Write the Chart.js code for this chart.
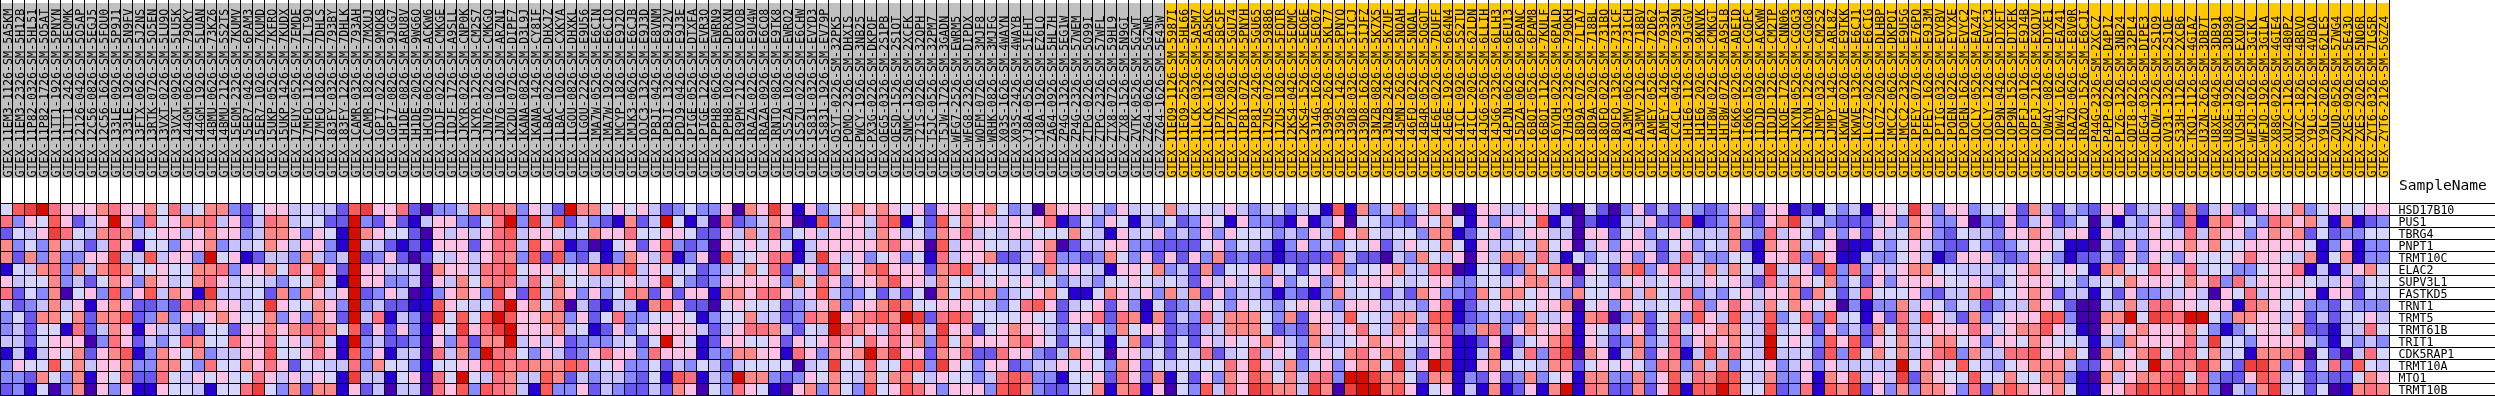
<!DOCTYPE html>
<html><head><meta charset="utf-8">
<script src="https://cdn.jsdelivr.net/npm/chart.js@4"></script>
<style>html,body{margin:0;padding:0;background:#fff}canvas{display:block}</style>
</head><body><canvas id="c" width="2495" height="396"></canvas>
<script>
const samples = ["GTEX-11EM3-1126-SM-5A5KM","GTEX-11EM3-2326-SM-5H12B","GTEX-11P82-0326-SM-5HL51","GTEX-11P82-1726-SM-5O5AT","GTEX-11TT1-1926-SM-5PNYN","GTEX-11TT1-2426-SM-5EQMK","GTEX-12126-0426-SM-5O5AP","GTEX-12C56-0826-SM-5EGJ5","GTEX-12C56-1626-SM-5FQU0","GTEX-133LE-0926-SM-5P9J1","GTEX-133LE-1926-SM-5N9FV","GTEX-13FTX-0626-SM-5J2NS","GTEX-13RTK-0726-SM-5O5EN","GTEX-13VXT-0226-SM-5LU9O","GTEX-13VXT-0926-SM-5LU5K","GTEX-144GM-0626-SM-79OKY","GTEX-144GM-1926-SM-5LUAN","GTEX-14BMU-0626-SM-73KZ6","GTEX-14BMU-2126-SM-5S2TS","GTEX-15EOM-2326-SM-7KUMV","GTEX-15ER7-0426-SM-6PAM3","GTEX-15ER7-1026-SM-7KUMD","GTEX-15UKP-0526-SM-7KFRO","GTEX-15UKP-1426-SM-7KUDX","GTEX-17EUY-0526-SM-7EMDE","GTEX-17MFQ-1126-SM-7LT9O","GTEX-17MFQ-1826-SM-7DHLS","GTEX-183FY-0326-SM-793BY","GTEX-183FY-1226-SM-7DHLK","GTEX-1CAMR-0326-SM-793AH","GTEX-1CAMR-1826-SM-7MXUJ","GTEX-1GPI7-0226-SM-9MQKB","GTEX-1GPI7-0826-SM-9JGG7","GTEX-1H1DE-0826-SM-ARU8V","GTEX-1H1DE-2026-SM-9WG6O",
"GTEX-1HCU9-0626-SM-ACKW6","GTEX-1IDJF-0226-SM-CMKGE","GTEX-1IDJF-1726-SM-A9SLL","GTEX-1JKYR-0226-SM-CNP0K","GTEX-1JKYR-1226-SM-CM2S7","GTEX-1JN76-0226-SM-CMKGQ","GTEX-1JN76-1026-SM-ARZNI","GTEX-1K2DU-0726-SM-DIPF7","GTEX-1KANA-0826-SM-D3L9J","GTEX-1KANA-1426-SM-CY8IF","GTEX-1LBAC-0226-SM-DHXJZ","GTEX-1LBAC-1026-SM-CXKYA","GTEX-1LGOU-0826-SM-DHXKL","GTEX-1LGOU-2226-SM-E9U56","GTEX-1MA7W-0526-SM-E6CIN","GTEX-1MA7W-1926-SM-E6CIO","GTEX-1MCYP-1826-SM-E9J2O","GTEX-1MJK3-0626-SM-E6CJB","GTEX-1OJC3-1326-SM-E9J3D","GTEX-1PBJI-0426-SM-E8VNM","GTEX-1PBJI-1326-SM-E9J2V","GTEX-1PDJ9-0426-SM-E9J3E","GTEX-1PIGE-0526-SM-DTXFA","GTEX-1PIGE-1226-SM-EVR3O","GTEX-1PPH8-0626-SM-EWRN9","GTEX-1PPH8-1026-SM-DPRXN","GTEX-1R9PM-2126-SM-E8VOB","GTEX-1RAZA-0226-SM-E9U4W","GTEX-1RAZA-0926-SM-E6CO8","GTEX-1RNTQ-0826-SM-E9TK8",
"GTEX-1S5ZA-1026-SM-EWRO2","GTEX-1S5ZU-0226-SM-E6CHW","GTEX-1S831-0326-SM-EVYD3","GTEX-1S831-1926-SM-EV79P","GTEX-O5YT-0226-SM-32PK5","GTEX-POMQ-2326-SM-DHXIS","GTEX-PWCY-1926-SM-3NB25","GTEX-PX3G-0226-SM-DKPOF","GTEX-QEG5-0326-SM-2S1PB","GTEX-QESD-1526-SM-2S1QT","GTEX-SNMC-1326-SM-2XCFK","GTEX-T2IS-0226-SM-32QPH","GTEX-T5JC-0526-SM-32PM7","GTEX-T5JW-1726-SM-3GADN","GTEX-WFG7-2526-SM-EWRM5","GTEX-WFG8-2326-SM-DIPDX","GTEX-WOFM-0726-SM-3MJF8","GTEX-WRHK-0826-SM-3MJFG","GTEX-X03S-1626-SM-4WAYN","GTEX-X03S-2426-SM-4WAYB","GTEX-YJ8A-0526-SM-5IFHT","GTEX-YJ8A-1926-SM-EZ6LQ","GTEX-ZA64-0926-SM-5HL7H","GTEX-ZP4G-1326-SM-5EG1W","GTEX-ZP4G-2326-SM-57WEM","GTEX-ZTPG-0226-SM-5O99I","GTEX-ZTPG-2326-SM-57WFL",
"GTEX-ZTX8-0726-SM-59HL9","GTEX-ZTX8-1526-SM-5N9GI","GTEX-ZVTK-0526-SM-5GZWT","GTEX-ZZ64-0626-SM-5GZWR","GTEX-ZZ64-1626-SM-5E43W","GTEX-11EQ9-1126-SM-5987I","GTEX-11EQ9-2526-SM-5HL66","GTEX-11LCK-0326-SM-5A5M7","GTEX-11LCK-1126-SM-5A5KC","GTEX-11P7K-0826-SM-5BC5F","GTEX-11P7K-2026-SM-5GU74","GTEX-11P81-0726-SM-5PNYH","GTEX-11P81-2426-SM-5GU65","GTEX-11ZUS-0726-SM-59886","GTEX-11ZUS-1826-SM-5FQTR","GTEX-12KS4-0426-SM-5EQMC","GTEX-12KS4-1526-SM-5EQ6E","GTEX-1314G-1626-SM-5EQ67","GTEX-1399R-2626-SM-5KL77","GTEX-1399S-1426-SM-5PNYQ","GTEX-139D8-0326-SM-5IJCJ","GTEX-139D8-1626-SM-5IJFZ","GTEX-13NZB-0826-SM-5K7X5","GTEX-13NZB-2426-SM-5K7UF","GTEX-145MN-2626-SM-5NQAH","GTEX-146FQ-0226-SM-5NQAL","GTEX-14B4R-0526-SM-5QGQT","GTEX-14E6E-0226-SM-7DUFF","GTEX-14E6E-1926-SM-664N4","GTEX-14ICL-0926-SM-5S2TU","GTEX-14ICL-2026-SM-62LDN","GTEX-14JG6-0526-SM-6LLIH","GTEX-14JG6-2326-SM-6LLH3",
"GTEX-14PJN-0626-SM-6EU13","GTEX-15DZA-0626-SM-6PANC","GTEX-16BQI-0526-SM-6PAM8","GTEX-16BQI-1126-SM-7KULF","GTEX-16YQH-0226-SM-6PALD","GTEX-17HG3-2326-SM-79OKH","GTEX-18D9A-0726-SM-7LTA7","GTEX-18D9A-2026-SM-718BL","GTEX-18QFQ-0226-SM-731BQ","GTEX-18QFQ-1326-SM-731CF","GTEX-1A3MV-0626-SM-731CH","GTEX-1A3MV-2126-SM-718BV","GTEX-1AMEY-0526-SM-72D62","GTEX-1AMEY-1426-SM-7939I","GTEX-1C4CL-0426-SM-7939N","GTEX-1H1E6-1126-SM-9JGGV","GTEX-1H1E6-2026-SM-9KNVK","GTEX-1HT8W-0226-SM-CMKGT","GTEX-1HT8W-0726-SM-A9SLB","GTEX-1I6K6-0226-SM-ADEID","GTEX-1I6K6-1526-SM-CGQFC","GTEX-1IDJD-0926-SM-ACKWW","GTEX-1IDJD-1226-SM-CM2TP","GTEX-1IKOE-1726-SM-CNN06","GTEX-1JKYN-0526-SM-CGQG3",
"GTEX-1JKYN-1226-SM-CGQG8","GTEX-1JMPY-0326-SM-CM2S2","GTEX-1JMPY-1426-SM-ARL8Z","GTEX-1KWVE-0226-SM-E9TKK","GTEX-1KWVE-1326-SM-E6CJ1","GTEX-1LG7Z-0226-SM-E6CIG","GTEX-1LG7Z-2026-SM-DLHBP","GTEX-1MCC2-0626-SM-DKPOI","GTEX-1MCC2-2326-SM-E9U5G","GTEX-1PFEY-0726-SM-E76PO","GTEX-1PFEY-1626-SM-E9J3M","GTEX-1PIIG-0326-SM-EVYBV","GTEX-1POEN-0226-SM-EYYXE","GTEX-1POEN-1626-SM-EVYC2","GTEX-1OCLY-0526-SM-EAZ47","GTEX-1OCLY-1226-SM-EVYC3","GTEX-1OP9N-0426-SM-DTXFT","GTEX-1OP9N-1526-SM-DTXFK","GTEX-1OPFJ-0126-SM-E9J4B","GTEX-1OPFJ-2126-SM-EXOJV","GTEX-1OW4Y-0826-SM-DTXE1","GTEX-1OW4Y-1626-SM-EAZ41","GTEX-1RAZQ-0626-SM-E8V0R","GTEX-1RAZQ-1526-SM-E6CJI","GTEX-P44G-2326-SM-2XCCZ",
"GTEX-P4PP-0226-SM-D4P1Z","GTEX-PLZ6-1326-SM-3NB24","GTEX-QDT8-0226-SM-32PL4","GTEX-QEG4-0326-SM-DIPE3","GTEX-QLQW-1226-SM-2S1Q9","GTEX-QV31-1326-SM-2S1QE","GTEX-S33H-1126-SM-2XCB6","GTEX-TKQ1-1126-SM-4GIAZ","GTEX-U3ZN-2626-SM-3DB7T","GTEX-U8XE-0426-SM-3DB91","GTEX-U8XE-1926-SM-3DB98","GTEX-VUSH-0226-SM-EXUQV","GTEX-WFJO-1026-SM-3GIKL","GTEX-WFJO-1926-SM-3GILA","GTEX-X88G-0226-SM-4GIE4","GTEX-XUZC-1126-SM-4B0PZ","GTEX-XUZC-1826-SM-4BRVO","GTEX-Y9LG-1226-SM-4VBQA","GTEX-Y9LG-2026-SM-62LES","GTEX-ZOUD-0526-SM-57WG4","GTEX-ZXES-0926-SM-5E43O","GTEX-ZXES-2026-SM-5NQ6R","GTEX-ZYT6-0326-SM-7LG5R","GTEX-ZYT6-2126-SM-5GZZ4"];
const genes = ["HSD17B10","PUS1","TBRG4","PNPT1","TRMT10C","ELAC2","SUPV3L1","FASTKD5","TRNT1","TRMT5","TRMT61B","TRIT1","CDK5RAP1","TRMT10A","MTO1","TRMT10B"];
const firstYellowColumn = 97;
const groupColors = ["#C0C0C0","#FFC800"];
const palette = ["#4500AD","#2700D1","#6B58EF","#8888FF","#C7C1FF","#D5D5FF","#FFC0E5","#FF8989","#FF7080","#FF5A5A","#EF4040","#D60C00"];

const HSD17B10 = [5,9,10,11,8,6,6,6,7,8,6,6,7,5,8,4,5,7,7,3,2,5,6,6,4,5,4,4,2,9,10,6,6,8,2,
0,3,3,4,7,7,8,7,3,6,4,2,11,7,7,5,6,5,6,4,2,3,5,3,3,6,0,7,6,10,
6,1,6,3,5,6,7,6,7,6,5,6,2,6,6,7,6,7,5,3,4,0,7,6,6,6,4,
3,6,4,5,5,7,4,5,5,4,6,4,3,4,5,3,4,5,1,9,1,7,3,4,7,3,5,7,6,0,1,6,6,
4,4,6,6,4,1,0,5,2,0,3,6,2,4,2,5,3,2,3,6,6,2,6,6,1,
2,1,5,3,4,1,6,6,5,10,6,3,6,6,3,5,5,6,2,7,4,2,4,3,2,
6,6,2,4,4,6,2,7,2,4,6,3,2,6,6,5,7,3,5,6,5,5,6,6];
const PUS1 = [8,3,6,5,9,6,2,4,6,11,6,3,8,5,6,7,7,8,4,6,2,4,8,7,4,5,5,2,2,11,3,2,6,2,1,
4,6,6,3,2,5,8,11,3,10,4,9,2,4,3,2,1,7,2,4,11,5,1,4,0,8,2,3,4,7,
6,0,1,9,3,6,6,4,8,9,1,5,2,9,5,7,6,6,4,6,5,6,8,1,2,5,3,
6,5,1,4,3,5,2,3,6,5,1,6,3,3,2,1,6,1,3,6,0,5,5,3,3,2,6,5,7,5,1,6,3,
6,6,5,9,1,4,0,2,1,1,4,4,6,2,2,9,1,2,3,7,3,2,6,7,10,
4,4,3,2,2,2,4,6,3,7,6,3,3,6,0,3,2,6,2,4,6,2,3,5,0,
4,1,4,3,6,4,2,8,1,7,8,6,5,3,8,7,6,7,4,1,7,1,2,3];
const TBRG4 = [2,5,4,6,10,8,5,4,7,8,7,4,5,6,6,4,6,7,6,6,3,4,7,7,6,3,6,5,1,11,7,6,5,5,2,
0,6,4,6,4,6,8,9,4,6,6,5,4,5,7,6,6,8,5,5,6,6,5,2,2,6,4,7,4,8,
3,5,6,4,6,6,6,4,7,6,4,5,3,7,6,8,4,5,4,6,6,5,5,5,7,5,4,
1,6,4,5,6,3,4,3,6,3,6,5,5,5,3,4,3,6,4,9,6,7,5,4,5,5,3,7,7,1,2,5,6,
3,4,6,6,4,4,0,6,6,2,5,6,3,5,6,5,4,4,4,7,5,3,8,4,6,
5,2,6,3,6,2,6,4,5,7,6,3,2,5,4,4,3,6,6,7,6,4,6,6,1,
6,4,4,4,6,5,4,8,4,7,6,6,3,6,7,6,7,2,5,2,3,3,5,5];
const PNPT1 = [7,3,5,3,7,4,4,2,4,8,6,1,5,5,3,6,6,7,3,4,4,5,7,6,4,6,6,3,1,11,4,4,2,1,2,
1,6,6,6,2,6,8,8,4,9,6,8,1,2,0,1,5,6,2,6,9,3,2,3,0,6,5,6,5,6,
5,1,4,6,6,6,6,6,7,8,6,6,0,9,4,6,6,5,5,4,4,6,7,0,2,4,4,
6,6,3,3,2,2,2,2,5,6,3,5,4,3,1,3,6,3,4,3,5,5,6,2,4,6,5,5,7,5,1,6,4,
4,5,4,7,5,6,0,4,6,3,6,6,4,2,5,6,3,5,4,7,2,1,7,6,7,
4,5,6,0,1,1,4,3,5,6,4,3,2,2,5,3,2,3,5,6,6,5,1,1,0,
4,2,6,3,6,6,6,7,6,7,5,5,6,6,6,6,6,5,1,3,6,1,3,3];
const TRMT10C = [7,2,7,3,7,3,3,6,6,10,4,4,9,4,6,6,3,11,5,6,1,2,4,4,3,7,4,3,4,11,2,3,6,2,0,
2,5,4,6,4,6,8,7,3,9,2,9,3,2,4,1,3,7,6,4,8,1,3,6,0,9,4,5,6,8,
8,1,4,10,6,4,6,3,5,6,3,5,1,8,4,6,6,7,2,2,4,6,8,3,3,2,3,
7,5,3,6,2,6,2,6,3,7,2,3,2,2,1,2,2,2,2,8,4,2,2,0,4,3,7,5,4,6,0,6,4,
7,7,4,8,4,1,5,3,5,4,6,3,6,2,4,8,4,3,3,5,5,1,6,6,8,
3,8,6,1,1,4,3,3,5,6,4,1,2,6,6,6,3,2,3,6,5,3,1,2,2,
4,2,6,3,6,5,3,6,5,5,5,6,8,6,6,5,4,7,1,5,7,1,3,3];
const ELAC2 = [1,5,4,7,8,3,7,4,7,9,7,5,5,6,5,5,7,7,8,3,6,6,7,5,8,6,9,6,2,11,6,6,4,4,4,
0,7,6,6,4,8,8,9,5,6,6,5,5,6,7,8,7,9,4,6,5,4,5,2,3,4,5,7,5,8,
2,5,6,3,8,5,6,7,9,6,6,6,2,7,8,9,4,5,5,4,5,3,7,4,6,5,4,
1,6,6,5,7,3,4,2,7,2,5,5,6,7,4,5,2,5,6,7,3,5,5,6,7,4,4,8,8,0,1,5,5,
2,3,7,5,7,8,0,6,5,2,7,9,3,6,8,4,4,7,4,7,5,4,10,4,5,
6,2,9,3,8,3,6,4,6,7,7,5,5,4,4,4,4,5,6,7,6,5,6,5,1,
7,7,5,5,8,6,6,8,4,5,5,3,3,5,6,6,8,1,4,1,4,6,7,5];
const SUPV3L1 = [6,4,5,5,7,3,4,2,5,7,6,3,7,6,4,5,7,8,6,4,5,5,4,3,5,5,7,5,1,11,6,6,3,3,4,
0,6,4,7,5,7,8,8,4,8,5,7,5,5,4,4,5,6,4,6,10,5,3,2,3,6,6,6,6,6,
3,7,5,8,6,3,6,6,7,9,6,6,4,7,5,5,6,5,6,5,6,5,5,3,4,4,3,
5,5,6,5,4,5,4,2,6,4,6,4,5,3,6,3,5,6,3,6,5,6,6,6,5,4,5,6,6,3,3,5,5,
4,6,7,7,4,6,2,5,5,3,5,6,4,5,6,5,4,6,5,6,4,2,8,4,7,
6,5,7,3,5,2,6,3,6,6,6,6,5,5,6,4,3,5,6,6,6,5,5,3,4,
5,5,7,6,6,6,5,7,6,8,3,8,4,6,6,6,6,5,4,4,6,3,5,5];
const FASTKD5 = [8,2,5,3,7,0,5,6,3,9,3,6,9,4,7,6,1,10,4,4,4,5,2,7,3,7,6,4,6,11,2,3,6,4,0,
1,3,6,7,6,3,10,6,2,9,4,7,6,3,6,3,5,8,7,2,6,2,6,6,1,7,7,6,8,8,
6,4,6,9,4,3,3,5,2,4,2,5,0,7,5,7,7,7,3,4,5,6,7,5,1,1,5,
7,6,4,6,3,7,4,7,2,6,3,4,4,3,1,3,2,1,3,7,4,5,5,2,4,2,7,6,3,3,2,7,5,
7,7,5,6,5,3,7,5,5,6,7,4,7,5,4,8,3,4,3,5,6,4,6,6,7,
2,7,5,2,4,8,5,5,5,6,3,2,4,4,7,8,5,5,6,7,6,2,4,4,1,
5,2,6,3,3,4,4,6,4,0,6,5,8,4,6,5,5,6,1,6,6,2,5,4];
const TRNT1 = [4,2,3,4,7,4,6,1,6,7,6,2,2,3,2,8,8,7,6,6,4,5,10,6,5,5,7,6,3,11,3,4,2,2,1,
1,9,6,5,4,5,8,11,6,7,5,8,0,4,2,1,4,4,1,7,9,6,2,2,0,5,6,5,5,5,
2,3,4,6,7,3,6,6,7,9,7,5,5,6,6,6,5,4,3,5,8,9,6,2,4,5,6,
2,6,3,1,5,2,3,4,6,5,3,6,5,4,3,5,6,6,4,3,6,6,6,4,4,4,3,6,8,1,2,4,5,
6,5,5,6,6,7,0,5,6,3,6,5,4,5,5,6,8,3,6,8,6,4,7,5,7,
6,5,6,0,3,1,3,3,7,4,6,5,3,5,4,2,3,4,4,7,6,5,2,0,0,
4,4,7,4,8,8,6,6,5,6,6,1,8,7,6,5,6,3,3,2,5,3,3,3];
const TRMT5 = [3,5,2,7,7,5,7,2,7,7,9,2,3,7,3,6,5,6,7,6,5,5,7,3,6,3,7,6,2,11,4,8,1,4,3,
0,10,5,9,5,9,11,9,6,6,7,7,3,6,2,5,8,3,3,5,5,6,5,1,3,5,5,7,4,4,
2,3,8,7,11,6,7,8,9,7,11,10,2,8,9,8,5,5,5,5,6,5,5,2,6,6,8,
2,8,7,1,7,2,4,3,8,4,7,7,7,5,3,7,2,6,6,4,9,5,5,4,7,7,4,9,9,1,2,3,4,
3,3,7,4,4,6,1,7,8,0,3,7,2,5,7,3,9,6,4,9,4,4,9,3,5,
8,3,9,4,5,1,6,2,8,4,9,6,4,2,7,3,5,6,6,6,9,9,3,0,0,
7,7,11,5,10,9,8,11,11,5,3,7,7,6,6,4,6,2,4,2,4,5,6,4];
const TRMT61B = [3,4,2,5,5,1,8,2,4,7,6,1,6,4,4,3,2,5,5,2,6,6,7,6,7,8,8,7,5,9,2,6,2,6,3,
1,6,5,10,6,8,10,11,6,6,6,7,4,5,1,2,6,3,5,6,6,6,6,4,2,4,6,8,8,7,
4,2,5,4,11,8,7,6,4,8,6,7,4,10,6,6,2,5,6,7,6,6,4,3,5,3,5,
3,7,5,6,6,2,3,2,4,4,7,7,7,5,2,3,2,7,6,4,6,8,5,4,7,6,3,7,8,2,3,7,8,
3,6,7,6,6,7,1,6,5,3,6,6,2,5,8,5,6,6,7,7,5,4,10,4,5,
6,2,6,3,4,2,7,5,8,4,6,6,6,6,8,6,4,6,7,7,9,6,4,1,0,
6,4,6,7,6,6,6,7,5,3,1,3,5,6,6,5,7,2,2,1,4,4,8,5];
const TRIT1 = [4,4,2,5,6,6,6,0,3,8,6,2,4,3,5,8,7,5,5,8,6,6,8,5,6,4,7,5,1,11,3,4,2,2,3,
0,6,3,8,2,7,7,11,4,6,4,6,2,3,3,3,4,5,2,5,11,6,5,1,2,6,6,5,5,6,
2,6,5,6,8,6,5,8,6,8,6,7,3,9,5,7,6,6,6,7,8,6,5,2,5,5,4,
1,5,7,2,4,2,5,2,6,4,6,5,6,7,6,4,3,7,4,4,5,6,7,6,6,5,4,6,8,1,1,2,6,
0,3,5,6,7,9,1,6,4,2,3,7,3,4,8,3,6,7,6,7,5,4,11,5,6,
5,3,9,6,9,2,6,5,7,4,5,7,7,5,6,3,6,6,5,7,6,5,5,4,1,
4,3,7,6,6,6,6,8,4,10,5,5,3,6,6,6,6,4,3,1,5,3,4,3];
const CDK5RAP1 = [1,4,1,4,6,5,7,2,6,7,9,1,3,7,6,5,7,3,4,4,6,6,9,5,5,6,8,6,1,9,3,6,1,4,4,
0,8,4,7,3,11,8,8,5,3,6,4,2,3,6,8,6,6,3,8,6,6,6,1,3,3,7,7,6,6,
1,8,6,3,7,6,7,11,7,10,6,6,2,7,6,8,2,2,8,6,6,3,2,4,7,6,5,
0,6,6,4,5,2,5,4,8,2,4,5,8,4,6,5,2,6,6,5,7,8,6,7,7,4,2,6,8,1,1,4,7,
1,4,8,3,8,10,0,7,6,1,4,7,2,6,8,1,4,9,4,8,5,4,11,4,4,
5,2,9,3,9,5,7,5,7,4,6,8,9,3,7,4,4,8,8,9,6,6,7,5,0,
7,5,6,7,9,5,8,8,5,7,4,5,1,7,7,7,8,0,5,2,0,4,8,5];
const TRMT10A = [3,6,5,5,9,5,7,4,6,6,7,3,3,7,7,5,3,8,5,5,7,6,8,6,2,5,5,4,4,8,3,7,5,5,3,
1,5,5,6,6,8,9,7,8,7,7,7,9,8,4,5,6,3,3,5,2,4,3,5,4,2,4,5,5,5,
5,0,4,5,10,5,5,8,5,5,9,9,3,10,6,5,3,6,6,2,3,4,4,6,5,6,5,
3,7,6,2,5,4,5,5,5,5,8,6,9,6,4,7,3,5,6,3,6,7,7,5,10,4,6,11,10,1,1,6,7,
5,5,5,4,7,7,2,5,6,5,6,5,3,8,7,3,7,4,7,3,5,5,6,3,4,
6,3,6,4,4,4,4,4,11,5,7,6,5,9,5,4,3,5,6,7,7,7,4,2,2,
6,7,6,5,11,7,8,7,10,7,5,2,10,10,7,3,6,2,5,8,3,9,5,4];
const MTO1 = [3,3,2,7,5,3,7,1,6,5,8,2,2,8,5,4,6,5,6,5,5,8,6,4,6,4,6,5,1,10,4,4,1,5,6,
0,8,5,11,5,4,8,7,4,4,9,7,2,4,3,4,4,3,2,5,1,9,8,1,4,3,11,7,7,3,
2,3,6,5,7,5,4,7,5,7,7,5,4,6,5,5,3,4,8,9,8,3,3,1,5,5,6,
2,8,6,2,7,1,5,2,6,3,7,6,9,7,5,7,4,8,8,3,11,11,10,7,7,5,2,7,7,1,3,2,6,
2,3,7,3,5,6,1,7,7,3,3,7,3,6,9,4,8,7,10,9,5,4,7,3,3,
6,1,7,6,9,4,6,4,10,2,7,6,5,5,9,5,5,7,5,5,7,7,3,1,0,
7,4,6,7,7,8,9,5,8,3,2,2,6,9,8,4,5,2,3,2,2,5,7,6];
const TRMT10B = [2,3,1,5,0,3,7,0,6,3,6,1,1,6,5,5,4,1,5,5,8,10,5,3,7,2,7,7,1,6,2,4,0,4,4,
0,8,6,9,3,9,8,7,4,1,9,3,3,6,2,4,3,2,2,4,2,7,6,0,5,3,8,6,5,1,
0,6,7,3,7,5,3,9,5,6,9,8,6,3,6,6,6,3,9,10,7,3,2,2,4,5,7,
1,7,8,1,6,0,5,3,9,4,8,6,10,9,7,7,4,10,7,0,10,11,11,7,9,6,1,5,6,1,4,1,7,
1,2,6,1,7,11,1,8,7,2,2,7,2,6,10,1,9,9,11,9,5,5,9,2,3,
8,1,9,7,10,2,6,3,7,3,7,7,6,3,8,2,7,9,7,6,6,7,5,1,1,
6,6,8,10,9,9,10,7,9,3,0,4,3,7,10,4,5,2,5,0,1,7,8,7];

const matrix = [HSD17B10,PUS1,TBRG4,PNPT1,TRMT10C,ELAC2,SUPV3L1,FASTKD5,TRNT1,TRMT5,TRMT61B,TRIT1,CDK5RAP1,TRMT10A,MTO1,TRMT10B];

const FONT = '"DejaVu Sans Mono", monospace';

const headerPlugin = {
  id: 'header',
  beforeDraw(chart) {
    const {ctx, scales: {x}} = chart;
    ctx.save();
    ctx.fillStyle = '#fff';
    ctx.fillRect(0, 0, chart.width, chart.height);
    const half = x.getPixelForTick(0) - x.left;
    samples.forEach((s, i) => {
      const cx = x.getPixelForTick(i);
      ctx.fillStyle = groupColors[i < firstYellowColumn ? 0 : 1];
      ctx.fillRect(cx - half, 3, half * 2, 175);
    });
    ctx.restore();
  },
  afterDraw(chart) {
    const {ctx, scales: {genes: g}} = chart;
    ctx.save();
    ctx.fillStyle = '#000';
    ctx.font = '14.6px ' + FONT;
    ctx.textBaseline = 'middle';
    ctx.textAlign = 'left';
    ctx.fillText('SampleName', g.left + 10, 186.5);
    ctx.restore();
  }
};

new Chart(document.getElementById('c'), {
  type: 'bar',
  plugins: [headerPlugin],
  data: {
    labels: samples,
    datasets: matrix.map((row, r) => ({
      label: genes[r],
      data: row.map(() => [r, r + 1]),
      backgroundColor: row.map(v => palette[v]),
      borderWidth: 0,
      barPercentage: 1,
      categoryPercentage: 1,
      grouped: false,
      xAxisID: 'x',
      yAxisID: 'y'
    }))
  },
  options: {
    responsive: false,
    animation: false,
    layout: {padding: {left: 0.5, right: 0, top: 0, bottom: 0.5}},
    plugins: {legend: {display: false}, tooltip: {enabled: false}},
    scales: {
      x: {
        type: 'category',
        position: 'top',
        offset: true,
        afterFit: s => { s.height = 203; },
        border: {display: true, color: '#000', width: 1, z: 1},
        grid: {offset: true, color: '#000', lineWidth: 1, z: 1, drawTicks: true, tickLength: 203, tickColor: '#000', tickWidth: 1},
        ticks: {
          autoSkip: false, minRotation: 90, maxRotation: 90, padding: -177.5, labelOffset: 16.5, color: '#000',
          font: {family: FONT, size: 11.7}
        }
      },
      y: {type: 'linear', min: 0, max: 16, reverse: true, display: false},
      genes: {
        type: 'category',
        labels: genes,
        position: 'right',
        offset: true,
        afterFit: s => { s.width = 106; },
        border: {display: true, color: '#000', width: 1, z: 1},
        grid: {offset: true, color: '#000', lineWidth: 1, z: 1, drawTicks: true, tickLength: 106, tickColor: '#000', tickWidth: 1},
        ticks: {autoSkip: false, padding: -96.5, labelOffset: 1.5, color: '#000', font: {family: FONT, size: 11.6}}
      }
    }
  }
});
</script></body></html>
